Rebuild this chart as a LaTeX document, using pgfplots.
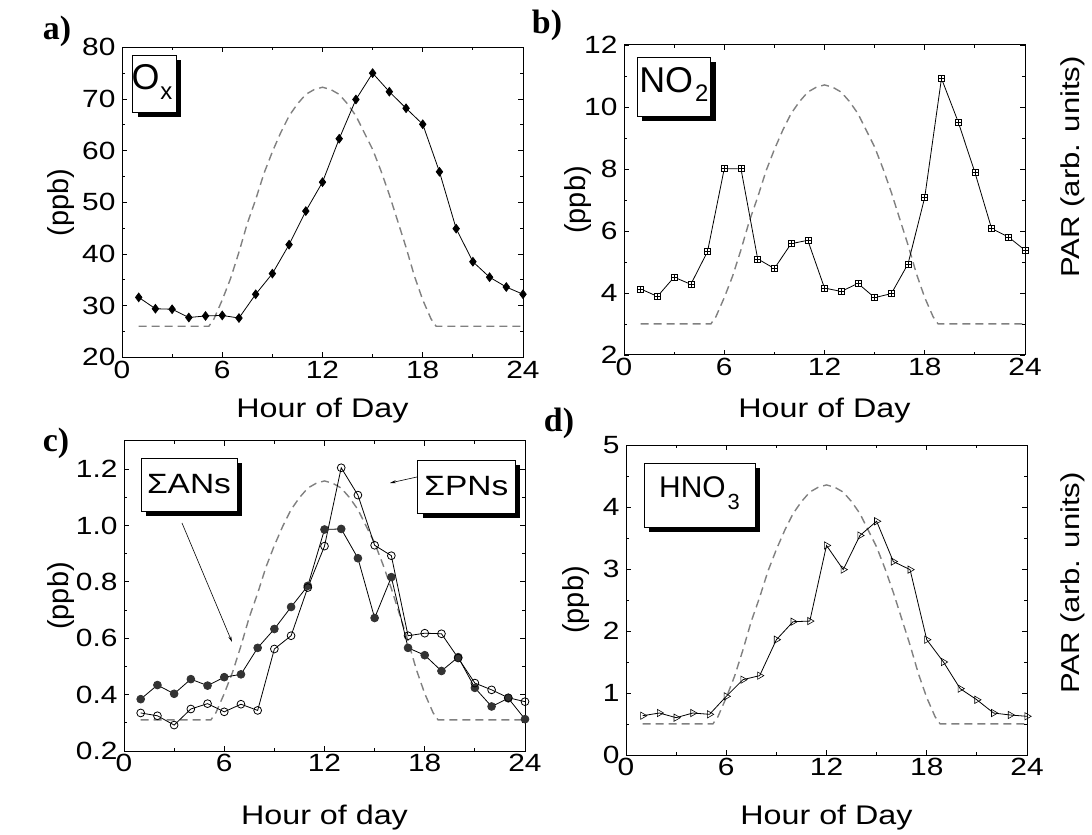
\documentclass[border=0pt]{standalone}
\usepackage{fontspec}
\setmainfont[FakeStretch=1.2]{Liberation Sans}
\newfontfamily\lgd{Liberation Sans}
\newfontfamily\tms{Liberation Serif}
\usepackage{pgfplots}
\usepackage{pgfplotstable}
\pgfplotsset{compat=1.18}
\usetikzlibrary{arrows.meta}

% PAR, arbitrary units (0 = night, 1 = noon)
\pgfplotstableread{
h par
1 0
5.2 0
5.5 0.03
6 0.11
6.5 0.20
7 0.31
7.5 0.43
8 0.53
8.5 0.64
9 0.73
9.5 0.81
10 0.88
10.5 0.93
11 0.97
11.5 0.99
12 1.00
12.5 0.99
13 0.97
13.5 0.93
14 0.88
14.5 0.81
15 0.74
15.5 0.65
16 0.55
16.5 0.44
17 0.33
17.5 0.21
18 0.11
18.5 0.03
18.8 0
24 0
}\partable

\pgfdeclareplotmark{sqplus}{%
  \pgfpathrectangle{\pgfpoint{-\pgfplotmarksize}{-\pgfplotmarksize}}{\pgfpoint{2\pgfplotmarksize}{2\pgfplotmarksize}}%
  \pgfpathmoveto{\pgfpoint{-\pgfplotmarksize}{0pt}}\pgfpathlineto{\pgfpoint{\pgfplotmarksize}{0pt}}%
  \pgfpathmoveto{\pgfpoint{0pt}{-\pgfplotmarksize}}\pgfpathlineto{\pgfpoint{0pt}{\pgfplotmarksize}}%
  \pgfusepathqfillstroke}

\newcommand{\tickfont}{\fontsize{25}{29}\selectfont}
\newcommand{\labfont}{\fontsize{27}{31}\selectfont}

\pgfplotsset{
  panel/.style={
    scale only axis, width=401bp, height=310bp,
    xmin=0, xmax=24, xtick={0,6,12,18,24}, minor x tick num=1,
    tick align=inside, major tick length=5bp, minor tick length=3bp,
    axis line style={line width=1bp},
    every tick/.style={black, line width=0.9bp},
    tick label style={font=\tickfont},
    yticklabel style={xshift=-3bp},
    /pgf/number format/assume math mode=true,
    label style={font=\labfont},
    ylabel={\fontsize{29}{33}\selectfont\lgd (ppb)},
  },
  paraxis/.style={
    scale only axis, width=401bp, height=310bp,
    xmin=0, xmax=24, ymin=-0.13, ymax=1.167, hide axis,
  },
  pardash/.style={color=gray, line width=1.4bp, dash pattern=on 8bp off 5bp, no markers},
  dat/.style={black, line width=0.8bp},
}

\begin{document}
\begin{tikzpicture}
\path (0,0) rectangle (1092bp,835bp);

% ---------- a) Ox
\begin{axis}[paraxis, at={(122bp,477.7bp)}]
  \addplot[pardash] table[x=h,y=par]{\partable};
\end{axis}
\begin{axis}[panel, at={(122bp,477.7bp)},
  ymin=20, ymax=80, ytick={20,30,...,80}, minor y tick num=1,
  xlabel={Hour of Day},
  xlabel style={at={(axis description cs:0.5,-0.171)}, anchor=center},
  ylabel style={at={(axis description cs:-0.152,0.5)}, anchor=center}]
  \addplot[dat, mark=diamond*, mark size=4.3bp] coordinates {
    (1,31.6) (2,29.4) (3,29.3) (4,27.7) (5,28.0) (6,28.1) (7,27.6) (8,32.2)
    (9,36.2) (10,41.8) (11,48.3) (12,53.9) (13,62.3) (14,69.9) (15,75.0)
    (16,71.4) (17,68.2) (18,65.1) (19,55.9) (20,44.9) (21,38.5) (22,35.5)
    (23,33.6) (24,32.2)
  };
\end{axis}

% ---------- b) NO2
\begin{axis}[paraxis, at={(624bp,480bp)}]
  \addplot[pardash] table[x=h,y=par]{\partable};
\end{axis}
\begin{axis}[panel, at={(624bp,480bp)},
  ymin=2, ymax=12, ytick={2,4,...,12}, minor y tick num=1,
  xlabel={Hour of Day},
  xlabel style={at={(axis description cs:0.5,-0.178)}, anchor=center},
  ylabel style={at={(axis description cs:-0.114,0.5)}, anchor=center}]
  \addplot[dat, mark=sqplus, mark size=3bp, mark options={fill=white, line width=0.6bp}] coordinates {
    (1,4.13) (2,3.89) (3,4.51) (4,4.28) (5,5.34) (6,8.01) (7,8.01) (8,5.10)
    (9,4.79) (10,5.59) (11,5.70) (12,4.16) (13,4.05) (14,4.31) (15,3.85)
    (16,3.98) (17,4.94) (18,7.09) (19,10.92) (20,9.52) (21,7.89) (22,6.08)
    (23,5.81) (24,5.38)
  };
\end{axis}

% ---------- c) sum ANs / sum PNs
\begin{axis}[paraxis, at={(124bp,84bp)}]
  \addplot[pardash] table[x=h,y=par]{\partable};
\end{axis}
\begin{axis}[panel, at={(124bp,84bp)},
  ymin=0.2, ymax=1.3, ytick={0.2,0.4,0.6,0.8,1.0,1.2}, minor y tick num=1,
  yticklabel style={/pgf/number format/.cd, fixed, fixed zerofill, precision=1},
  xlabel={Hour of day},
  xlabel style={at={(axis description cs:0.5,-0.216)}, anchor=center},
  ylabel style={at={(axis description cs:-0.158,0.5)}, anchor=center}]
  \addplot[dat, mark=*, mark size=3.9bp, mark options={fill=black!80, draw=black!80}] coordinates {
    (1,0.384) (2,0.434) (3,0.403) (4,0.455) (5,0.432) (6,0.462) (7,0.472)
    (8,0.566) (9,0.633) (10,0.711) (11,0.786) (12,0.986) (13,0.988) (14,0.884)
    (15,0.672) (16,0.817) (17,0.566) (18,0.540) (19,0.484) (20,0.533)
    (21,0.424) (22,0.358) (23,0.387) (24,0.313)
  };
  \addplot[dat, mark=o, mark size=3.9bp, mark options={fill=white}] coordinates {
    (1,0.335) (2,0.325) (3,0.292) (4,0.349) (5,0.368) (6,0.339) (7,0.366)
    (8,0.344) (9,0.562) (10,0.609) (11,0.780) (12,0.927) (13,1.205) (14,1.108)
    (15,0.930) (16,0.893) (17,0.609) (18,0.618) (19,0.616) (20,0.530)
    (21,0.441) (22,0.417) (23,0.389) (24,0.375)
  };
\end{axis}

% ---------- d) HNO3
\begin{axis}[paraxis, at={(626bp,80bp)}]
  \addplot[pardash] table[x=h,y=par]{\partable};
\end{axis}
\begin{axis}[panel, at={(626bp,80bp)},
  ymin=0, ymax=5, ytick={0,1,...,5}, minor y tick num=1,
  xlabel={Hour of Day},
  xlabel style={at={(axis description cs:0.5,-0.203)}, anchor=center},
  ylabel style={at={(axis description cs:-0.125,0.5)}, anchor=center}]
  \addplot[dat, mark=triangle, mark size=4.2bp, mark options={rotate=-90, fill=white, line width=0.6bp}] coordinates {
    (1,0.634) (2,0.677) (3,0.602) (4,0.677) (5,0.656) (6,0.946) (7,1.215)
    (8,1.28) (9,1.86) (10,2.15) (11,2.16) (12,3.38) (13,2.99) (14,3.54)
    (15,3.77) (16,3.12) (17,2.99) (18,1.86) (19,1.50) (20,1.07) (21,0.89)
    (22,0.677) (23,0.645) (24,0.624)
  };
\end{axis}

% ---------- label boxes with drop shadows
\fill (137.7bp,717.7bp) rectangle (181bp,775bp);
\draw[fill=white, line width=0.9bp] (132.7bp,722.3bp) rectangle (176bp,780bp);
\node at (152bp,753bp) {\lgd\fontsize{36}{40}\selectfont O\kern1bp\raisebox{-10bp}{\fontsize{24}{28}\selectfont x}};

\fill (642bp,714bp) rectangle (715.7bp,773bp);
\draw[fill=white, line width=0.9bp] (637bp,719bp) rectangle (710.7bp,778bp);
\node at (673.8bp,751bp) {\lgd\fontsize{36}{40}\selectfont NO\kern2bp\raisebox{-9bp}{\fontsize{24}{28}\selectfont 2}};

\fill (146bp,319bp) rectangle (242bp,372bp);
\draw[fill=white, line width=0.9bp] (141bp,324bp) rectangle (237bp,377bp);
\node at (189bp,350.5bp) {\fontsize{28}{32}\selectfont ΣANs};

\fill (422.7bp,317bp) rectangle (520bp,370bp);
\draw[fill=white, line width=0.9bp] (417.7bp,322bp) rectangle (515bp,375bp);
\node at (466.3bp,348.5bp) {\fontsize{28}{32}\selectfont ΣPNs};

\fill (649bp,303bp) rectangle (760bp,367bp);
\draw[fill=white, line width=0.9bp] (644bp,308bp) rectangle (755bp,372bp);
\node at (699.5bp,342bp) {\lgd\fontsize{30}{34}\selectfont HNO\kern2bp\raisebox{-12bp}{\fontsize{22}{26}\selectfont 3}};

% arrows in c)
\draw[line width=0.6bp, -{Stealth[length=6bp, width=3bp]}] (182bp,312bp) -- (232bp,193bp);
\draw[line width=0.6bp, -{Stealth[length=6bp, width=3bp]}] (417bp,358bp) -- (390bp,352bp);

% panel letters
\node at (57bp,804bp) {\tms\bfseries\fontsize{34}{38}\selectfont a)};
\node at (547bp,810bp) {\tms\bfseries\fontsize{34}{38}\selectfont b)};
\node at (56bp,392bp) {\tms\bfseries\fontsize{34}{38}\selectfont c)};
\node at (559bp,412bp) {\tms\bfseries\fontsize{34}{38}\selectfont d)};

% right-hand axis titles
\node[rotate=90] at (1073bp,668bp) {\fontsize{26}{30}\selectfont PAR (arb. units)};
\node[rotate=90] at (1073bp,252bp) {\fontsize{26}{30}\selectfont PAR (arb. units)};
\end{tikzpicture}
\end{document}
